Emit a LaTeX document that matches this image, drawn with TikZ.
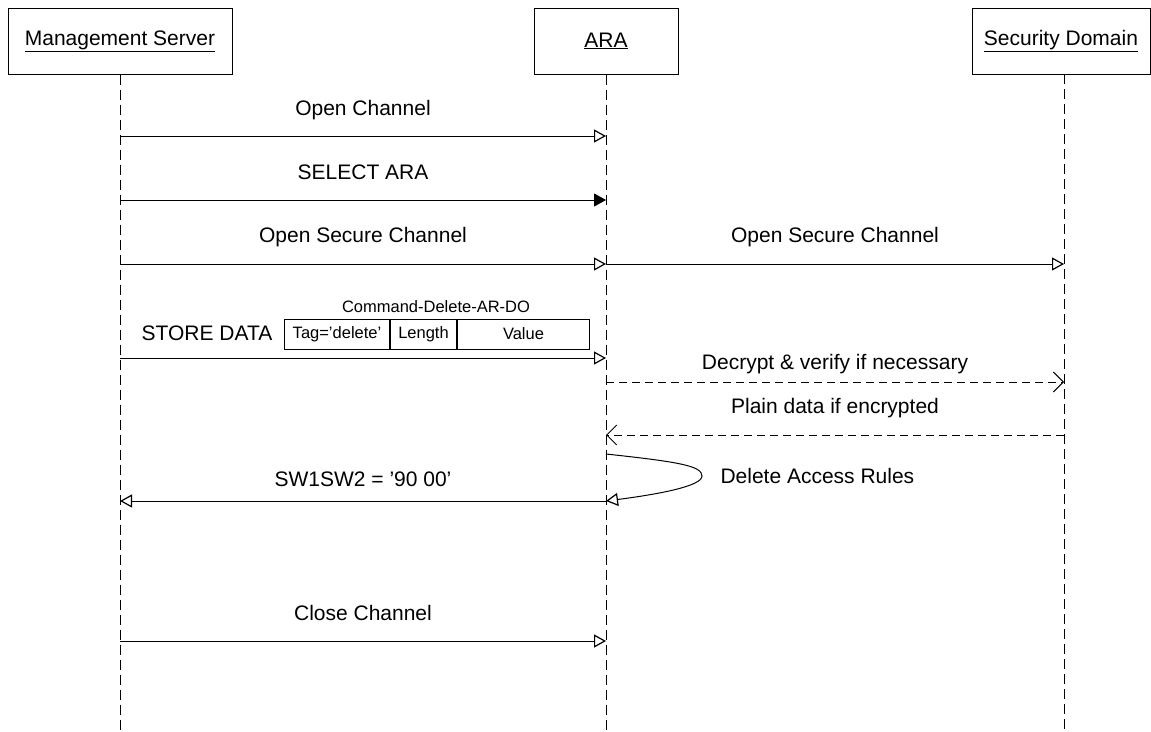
\documentclass[tikz,border=0pt]{standalone}
\usepackage{fontspec}
\setmainfont{Liberation Sans}
\usetikzlibrary{arrows.meta,positioning}

\tikzset{
	actor/.style={rectangle,draw,line width=1pt,minimum height=66pt,inner sep=0pt,font=\fontsize{21}{25}\selectfont},
	lifeline/.style={line width=0.9pt,dash pattern=on 10pt off 5pt},
	msg/.style={line width=1pt,-{Triangle[open,length=12pt,width=13pt,line width=1.2pt]}},
	msgfill/.style={line width=1pt,-{Triangle[length=12pt,width=13pt]}},
	reply/.style={line width=1pt,dash pattern=on 8pt off 5pt,-{Straight Barb[length=10pt,width=20pt]}},
	lbl/.style={font=\fontsize{21}{25}\selectfont},
	small/.style={font=\fontsize{16.5}{20}\selectfont},
	cell/.style={rectangle,draw,line width=1pt,minimum height=30pt,inner sep=0pt,small}
}

\begin{document}
\begin{tikzpicture}[x=1pt,y=-1pt]
		\useasboundingbox (0,0) rectangle (1151,731);
		\clip (0,0) rectangle (1151,731);
%		\draw[help lines] (0,0) grid (1151,731);
		\path (120,41) node(server) [actor,minimum width=224pt] {\underline{Management Server}};
		\path (606,41) node(ara) [actor,minimum width=144pt] {\underline{ARA}};
		\path (1061,41) node(domain) [actor,minimum width=178pt] {\underline{Security Domain}};
		\path (120,731) coordinate (server_bot);
		\path (606,731) coordinate (ara_bot);
		\path (1064,74) coordinate (domain_top);
		\path (1064,731) coordinate (domain_bot);
		\path (120,136) coordinate (open_l);
		\path (606,136) coordinate (open_r);
		\path (120,200) coordinate (select_l);
		\path (606,200) coordinate (select_r);
		\path (120,264) coordinate (secure_l);
		\path (606,264) coordinate (secure_m);
		\path (1064,264) coordinate (secure_r);
		\path (120,358) coordinate (store_l);
		\path (606,358) coordinate (store_r);
		\path (606,382) coordinate (decrypt_l);
		\path (1064,382) coordinate (decrypt_r);
		\path (606,435) coordinate (plain_l);
		\path (1064,435) coordinate (plain_r);
		\path (606,454) coordinate (rules_top);
		\path (606,501) coordinate (rules_bot);
		\path (120,501) coordinate (sw_l);
		\path (120,641) coordinate (close_l);
		\path (606,641) coordinate (close_r);

		\draw[lifeline] (server.south) -- (server_bot);
		\draw[lifeline] (ara.south) -- (ara_bot);
		\draw[lifeline] (domain_top) -- (domain_bot);

		\path (363,110) node(open_txt) [lbl] {Open Channel};
		\draw[msg] (open_l) -- (open_r);
		\path (363,172) node(select_txt) [lbl] {SELECT ARA};
		\draw[msgfill] (select_l) -- (select_r);
		\path (363,237) node(secure_txt) [lbl] {Open Secure Channel};
		\draw[msg] (secure_l) -- (secure_m);
		\path (835,237) node(secure2_txt) [lbl] {Open Secure Channel};
		\draw[msg] (secure_m) -- (secure_r);

		\path (207,333) node(store_txt) [lbl] {STORE DATA};
		\path (284,334) node(tag) [cell,anchor=west,minimum width=105pt] {Tag='delete'};
		\path (tag.east) node(length) [cell,anchor=west,minimum width=66pt] {Length};
		\path (length.east) node(value) [cell,anchor=west,minimum width=132pt] {Value};
		\path (436,307) node(cmd_txt) [small] {Command-Delete-AR-DO};
		\draw[msg] (store_l) -- (store_r);

		\path (835,364) node(decrypt_txt) [lbl] {Decrypt \& verify if necessary};
		\draw[reply] (decrypt_l) -- (decrypt_r);
		\path (835,408) node(plain_txt) [lbl] {Plain data if encrypted};
		\draw[reply] (plain_r) -- (plain_l);

		\draw[msg] (rules_top) .. controls (680,462) and (702,466) .. (702,476) .. controls (702,486) and (660,494) .. (rules_bot);
		\path (717,476) node(rules_txt) [lbl,anchor=west] {Delete Access Rules};
		\path (363,479) node(sw_txt) [lbl] {SW1SW2 = '90 00'};
		\draw[msg] (rules_bot) -- (sw_l);

		\path (363,613) node(close_txt) [lbl] {Close Channel};
		\draw[msg] (close_l) -- (close_r);
	\end{tikzpicture}
\end{document}
